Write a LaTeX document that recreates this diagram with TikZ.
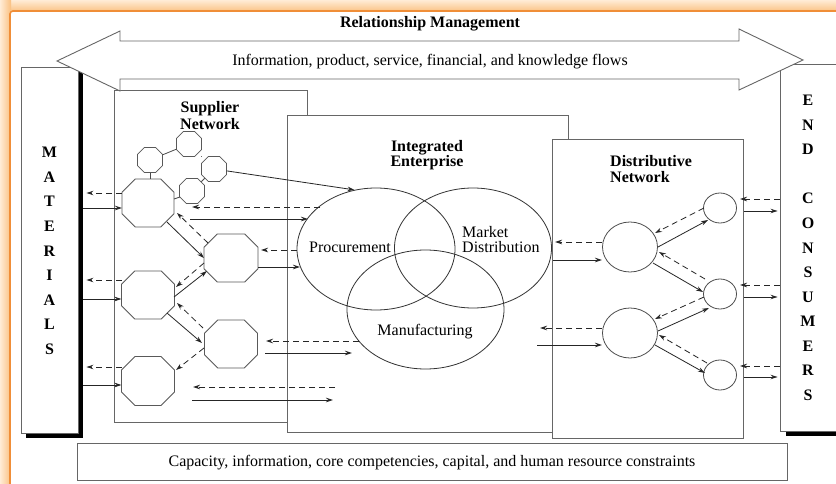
\documentclass[tikz,border=0pt]{standalone}
\usepackage{fontspec}
\setmainfont{Liberation Serif}
\usetikzlibrary{arrows.meta,calc,shapes.geometric}
\definecolor{peachL}{RGB}{255,236,214}
\definecolor{peachD}{RGB}{250,192,128}
\definecolor{frameOr}{RGB}{240,142,56}
\newcommand\mkoct[5]{%
  \node[inner sep=0pt, minimum width=2*#4, minimum height=2*#5] (#1) at (#2,#3) {};
  \pgfmathsetmacro\occ{0.55*min(#4,#5)}
  \draw[octln] ({#2-#4+\occ},{#3-#5}) -- ({#2+#4-\occ},{#3-#5}) -- ({#2+#4},{#3-#5+\occ}) -- ({#2+#4},{#3+#5-\occ}) -- ({#2+#4-\occ},{#3+#5}) -- ({#2-#4+\occ},{#3+#5}) -- ({#2-#4},{#3+#5-\occ}) -- ({#2-#4},{#3-#5+\occ}) -- cycle;
}
\begin{document}
\begin{tikzpicture}[x=1pt,y=-1pt,
  boxln/.style={draw=black!60, line width=0.9pt, fill=white},
  octln/.style={draw=black!65, line width=0.8pt, fill=white},
  sol/.style={draw=black!85, line width=0.8pt, -{Stealth[length=7pt,width=4.5pt]}},
  dsh/.style={sol, dash pattern=on 6pt off 4pt},
  lnk/.style={draw=black!70, line width=0.8pt},
  lbl/.style={font=\fontsize{16}{17}\selectfont, inner sep=0pt},
  blbl/.style={font=\fontsize{16}{17}\selectfont\bfseries, inner sep=0pt},
  ell/.style={ellipse, draw=black!80, line width=0.8pt, inner sep=0pt},
]
\useasboundingbox (0,0) rectangle (836,484);
\clip (0,0) rectangle (836,484);
% orange frame
\shade[top color=peachL, bottom color=peachD] (0,0) rectangle (836,12);
\shade[left color=peachL, right color=peachD] (0,0) rectangle (11,484);
\fill[white] (10,11) rectangle (840,490);
\draw[frameOr, line width=1.6pt, rounded corners=3pt] (10,490) -- (10,11) -- (840,11);

% main boxes
\node[boxln, minimum width=193, minimum height=332, inner sep=0] (sup) at (210.5,256) {};
\node[boxln, minimum width=281, minimum height=317, inner sep=0] (ent) at (427.5,273.5) {};
\node[boxln, minimum width=191, minimum height=299, inner sep=0] (dist) at (647.5,288.5) {};
\node[boxln, minimum width=710, minimum height=37, inner sep=0] (cap) at (432,461.5) {};
\node[lbl, anchor=base] (captxt) at (432,466) {Capacity, information, core competencies, capital, and human resource constraints};

% materials and end consumers
\fill[black] (26,72) rectangle (83,438);
\node[boxln, minimum width=57, minimum height=366, inner sep=0] (mat) at (49.5,250) {};
\fill[black] (786,69) rectangle (850,436);
\node[boxln, minimum width=65, minimum height=367, inner sep=0] (endc) at (812.5,247.5) {};
\foreach \l [count=\i] in {M,A,T,E,R,I,A,L,S}
  \node[blbl, anchor=base] (ml\i) at (49.5,{158+24.5*(\i-1)}) {\l};
\foreach \l/\yy [count=\i] in {E/0,N/1,D/2,C/4,O/5,N/6,S/7,U/8,M/9,E/10,R/11,S/12}
  \node[blbl, anchor=base] (el\i) at (808,{106+24.5*\yy}) {\l};

% big double arrow
\draw[boxln] (57,61) -- (120,31) -- (120,41) -- (739,41) -- (739,29) -- (803,60) -- (739,90) -- (739,79) -- (120,79) -- (120,91) -- cycle;
\node[blbl, anchor=base] (rm) at (430,28) {Relationship Management};
\node[lbl, anchor=base] (flows) at (430,66) {Information, product, service, financial, and knowledge flows};

% labels
\node[blbl, anchor=base] (sn1) at (210,113) {Supplier};
\node[blbl, anchor=base] (sn2) at (210,130) {Network};
\node[blbl, anchor=base] (ie1) at (427,152) {Integrated};
\node[blbl, anchor=base] (ie2) at (427,167) {Enterprise};
\node[blbl, anchor=base west] (dn1) at (610,167) {Distributive};
\node[blbl, anchor=base west] (dn2) at (610,183) {Network};

% ellipses
\node[ell, minimum width=158, minimum height=122] (proc) at (376,249) {};
\node[ell, minimum width=157, minimum height=120] (mkt) at (473,248) {};
\node[ell, minimum width=157, minimum height=119] (manu) at (425.5,309.5) {};
\node[lbl, anchor=base] (proclbl) at (350,252) {Procurement};
\node[lbl, anchor=base west] (mk1) at (462,237) {Market};
\node[lbl, anchor=base west] (mk2) at (462,252) {Distribution};
\node[lbl, anchor=base] (manulbl) at (425,335) {Manufacturing};

% supplier octagons
\mkoct{s1}{150}{160}{12.5}{12.5}
\mkoct{s2}{189}{144}{12.5}{12.5}
\mkoct{s3}{214}{169}{12.5}{12.5}
\mkoct{s4}{192}{191}{12.5}{12.5}
\mkoct{o1}{148}{203}{26}{24}
\mkoct{o2}{231}{258}{27}{24}
\mkoct{o3}{148}{295}{26.5}{24}
\mkoct{o4}{231}{344}{26.5}{24}
\mkoct{o5}{148}{381}{26.5}{24.5}

\draw[lnk] (s1) -- (s2);
\draw[lnk] (s2) -- (s3);
\draw[lnk] (s3) -- (s4);
\draw[lnk] (s1.south) -- (s1.south |- o1.north);
\draw[lnk] ($(s4)+(-12,6)$) -- ($(o1)+(26,-4)$);
\draw[sol] (s3) -- (proc.110);

% materials <-> supplier
\draw[dsh] ($(o1)+(-26,-10)$) -- ($(mat.east|-o1)+(8,-10)$);
\draw[sol] ($(mat.east|-o1)+(5,5)$) -- ($(o1)+(-26,5)$);
\draw[dsh] ($(o3)+(-26.5,-15)$) -- ($(mat.east|-o3)+(8,-15)$);
\draw[sol] ($(mat.east|-o3)+(5,4)$) -- ($(o3)+(-26.5,4)$);
\draw[dsh] ($(o5)+(-26.5,-14)$) -- ($(mat.east|-o5)+(8,-14)$);
\draw[sol] ($(mat.east|-o5)+(5,4)$) -- ($(o5)+(-26.5,4)$);

% supplier internal
\draw[sol] ($(o1)+(19,19)$) -- ($(o2)+(-27,0)$);
\draw[dsh] ($(o2)+(-23,-15)$) -- ($(o1)+(29,10)$);
\draw[sol] ($(o3)+(26,2)$) -- ($(o2)+(-24,13)$);
\draw[dsh] ($(o2)+(-27,5)$) -- ($(o3)+(28,-8)$);
\draw[sol] ($(o3)+(19,18)$) -- ($(o4)+(-29,-1)$);
\draw[dsh] ($(o4)+(-28,-16)$) -- ($(o3)+(29,8)$);
\draw[dsh] ($(o4)+(-27,4)$) -- ($(o5)+(28,-11)$);

% supplier <-> integrated
\coordinate (fa) at (192,207);
\coordinate (fb) at (190,219);
\draw[dsh] ($(proc)+(-56,-42)$) -- (fa);
\draw[sol] (fb) -- ($(proc)+(-68,-30)$);
\draw[dsh] ($(proc)+(-79,1)$) -- ($(o2)+(30,-8)$);
\draw[sol] ($(o2)+(27,9)$) -- ($(proc)+(-76,18)$);
\coordinate (fc) at (266,341);
\coordinate (fd) at (265,353);
\coordinate (fe) at (352,353);
\draw[dsh] ($(manu)+(-67,31.5)$) -- (fc);
\draw[sol] (fd) -- (fe);
\coordinate (ff) at (335,387);
\coordinate (fg) at (193,387);
\coordinate (fh) at (192,400);
\coordinate (fi) at (333,400);
\draw[dsh] (ff) -- (fg);
\draw[sol] (fh) -- (fi);

% distributive network
\node[ell, draw=black!70, minimum width=55, minimum height=50] (c1) at (630,247) {};
\node[ell, draw=black!70, minimum width=55, minimum height=50] (c2) at (630,333) {};
\node[ell, draw=black!70, minimum width=33, minimum height=30] (e1) at (720,208) {};
\node[ell, draw=black!70, minimum width=33, minimum height=30] (e2) at (720,294) {};
\node[ell, draw=black!70, minimum width=33, minimum height=30] (e3) at (720,375) {};

\draw[dsh] ($(c1)+(-28,-5)$) -- ($(mkt)+(82,-6)$);
\draw[sol] ($(mkt)+(80,12)$) -- ($(c1)+(-28,13)$);
\coordinate (fj) at (540,328);
\coordinate (fk) at (537,345);
\draw[dsh] ($(c2)+(-28,-5)$) -- (fj);
\draw[sol] (fk) -- ($(c2)+(-28,12)$);

\draw[sol] ($(c1)+(28,0)$) -- ($(e1)+(-12,12)$);
\draw[dsh] ($(e1)+(-16,0)$) -- ($(c1)+(25,-14)$);
\draw[sol] ($(c1)+(23,16)$) -- ($(e2)+(-17,-2)$);
\draw[dsh] ($(e2)+(-15,-15)$) -- ($(c1)+(29,5)$);
\draw[sol] ($(c2)+(28,-2)$) -- ($(e2)+(-11,14)$);
\draw[dsh] ($(e2)+(-16,3)$) -- ($(c2)+(25,-14)$);
\draw[sol] ($(c2)+(25,12)$) -- ($(e3)+(-15,-2)$);
\draw[dsh] ($(e3)+(-13,-12)$) -- ($(c2)+(29,2)$);

% distributive <-> end consumers
\draw[dsh] (endc.west|-e1) ++(0,-9) -- ($(e1)+(20,-9)$);
\draw[sol] ($(e1)+(24,3)$) -- ($(endc.west|-e1)+(-2,3)$);
\draw[dsh] (endc.west|-e2) ++(0,-9) -- ($(e2)+(20,-9)$);
\draw[sol] ($(e2)+(24,3)$) -- ($(endc.west|-e2)+(-2,3)$);
\draw[dsh] (endc.west|-e3) ++(0,-9) -- ($(e3)+(20,-9)$);
\draw[sol] ($(e3)+(24,2)$) -- ($(endc.west|-e3)+(-2,2)$);
\end{tikzpicture}
\end{document}
